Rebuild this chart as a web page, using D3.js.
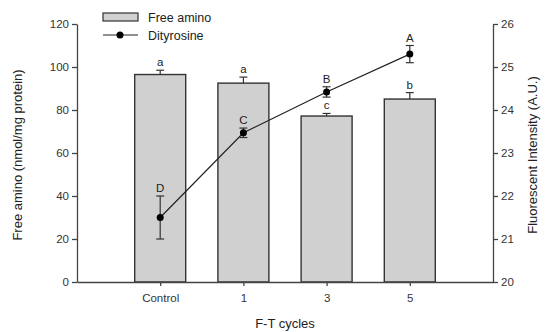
<!DOCTYPE html>
<html>
<head>
<meta charset="utf-8">
<script src="https://cdn.jsdelivr.net/npm/d3@7"></script>
<style>
  body { margin: 0; background: #fff; }
  text { font-family: "Liberation Sans", Arial, sans-serif; fill: #222; }
  .axis path, .axis line { stroke: #444; stroke-width: 1.3; }
  .axis text { font-size: 11.5px; fill: #333; }
</style>
</head>
<body>
<svg id="chart" width="551" height="332"></svg>
<script>
var categories = ['Control', '1', '3', '5'];
var freeAmino = [96.5, 92.5, 77.2, 85.1];
var freeAminoErr = [2, 2.8, 1.2, 3];
var freeAminoLetters = ['a', 'a', 'c', 'b'];
var dityrosine = [21.5, 23.47, 24.42, 25.3];
var dityrosineErr = [0.5, 0.11, 0.12, 0.2];
var dityrosineLetters = ['D', 'C', 'B', 'A'];
var leftTicks = [0, 20, 40, 60, 80, 100, 120];
var rightTicks = [20, 21, 22, 23, 24, 25, 26];

var svg = d3.select('#chart');
var plotLeft = 77, plotRight = 493, plotTop = 24, plotBottom = 282;

var x = d3.scalePoint().domain(categories).range([plotLeft, plotRight]).padding(1);
var yL = d3.scaleLinear().domain([0, 120]).range([plotBottom, plotTop]);
var yR = d3.scaleLinear().domain([20, 26]).range([plotBottom, plotTop]);
var barW = 51;

// bars
svg.selectAll('.bar')
    .data(freeAmino)
    .enter()
    .append('rect')
        .attr('class', 'bar')
        .attr('x', function(d, i) { return x(categories[i]) - barW / 2; })
        .attr('y', function(d) { return yL(d); })
        .attr('width', barW)
        .attr('height', function(d) { return plotBottom - yL(d); })
        .attr('fill', '#d0d0d0')
        .attr('stroke', '#333')
        .attr('stroke-width', 1.4);

// bar error bars (upper only)
freeAmino.forEach(function(v, i){
    var cx = x(categories[i]);
    svg.append('line')
        .attr('x1', cx).attr('x2', cx)
        .attr('y1', yL(v)).attr('y2', yL(v + freeAminoErr[i]))
        .attr('stroke', '#333').attr('stroke-width', 1.2);
    svg.append('line')
        .attr('x1', cx - 4).attr('x2', cx + 4)
        .attr('y1', yL(v + freeAminoErr[i])).attr('y2', yL(v + freeAminoErr[i]))
        .attr('stroke', '#333').attr('stroke-width', 1.2);
    svg.append('text')
        .attr('x', cx)
        .attr('y', yL(v + freeAminoErr[i]) - 4)
        .attr('text-anchor', 'middle')
        .style('font-size', '11.5px')
        .text(freeAminoLetters[i]);
});

// axes
svg.append('g')
    .attr('class', 'axis')
    .attr('transform', 'translate(' + plotLeft + ',0)')
    .call(d3.axisLeft(yL).tickValues(leftTicks).tickSize(5).tickSizeOuter(0));

svg.append('g')
    .attr('class', 'axis')
    .attr('transform', 'translate(' + plotRight + ',0)')
    .call(d3.axisRight(yR).tickValues(rightTicks).tickFormat(d3.format('d')).tickSize(5).tickSizeOuter(0));

svg.append('g')
    .attr('class', 'axis')
    .attr('transform', 'translate(0,' + plotBottom + ')')
    .call(d3.axisBottom(x).tickSize(4).tickSizeOuter(0).tickPadding(8));

// dityrosine line
var line = d3.line()
    .x(function(d, i) { return x(categories[i]); })
    .y(function(d) { return yR(d); });

svg.append('path')
    .datum(dityrosine)
    .attr('d', line)
    .attr('fill', 'none')
    .attr('stroke', '#222')
    .attr('stroke-width', 1.2);

dityrosine.forEach(function(v, i){
    var cx = x(categories[i]);
    var e = dityrosineErr[i];
    svg.append('line')
        .attr('x1', cx).attr('x2', cx)
        .attr('y1', yR(v - e)).attr('y2', yR(v + e))
        .attr('stroke', '#333').attr('stroke-width', 1.2);
    [v - e, v + e].forEach(function(w){
        svg.append('line')
            .attr('x1', cx - 4).attr('x2', cx + 4)
            .attr('y1', yR(w)).attr('y2', yR(w))
            .attr('stroke', '#333').attr('stroke-width', 1.2);
    });
    svg.append('circle')
        .attr('cx', cx).attr('cy', yR(v)).attr('r', 3.5)
        .attr('fill', '#000');
    svg.append('text')
        .attr('x', cx)
        .attr('y', yR(v + e) - 4)
        .attr('text-anchor', 'middle')
        .style('font-size', '11.5px')
        .text(dityrosineLetters[i]);
});

// axis titles
svg.append('text')
    .attr('transform', 'translate(22,' + ((plotTop + plotBottom) / 2 + 2) + ') rotate(-90)')
    .attr('text-anchor', 'middle')
    .style('font-size', '13px')
    .text('Free amino (nmol/mg protein)');

svg.append('text')
    .attr('transform', 'translate(537,' + ((plotTop + plotBottom) / 2 + 2) + ') rotate(-90)')
    .attr('text-anchor', 'middle')
    .style('font-size', '13px')
    .text('Fluorescent Intensity (A.U.)');

svg.append('text')
    .attr('x', (plotLeft + plotRight) / 2)
    .attr('y', 328)
    .attr('text-anchor', 'middle')
    .style('font-size', '13px')
    .text('F-T cycles');

// legend
svg.append('rect')
    .attr('x', 103).attr('y', 13).attr('width', 35).attr('height', 8)
    .attr('fill', '#d0d0d0').attr('stroke', '#333').attr('stroke-width', 1.2);
svg.append('text')
    .attr('x', 148).attr('y', 22)
    .style('font-size', '12.5px')
    .text('Free amino');
svg.append('line')
    .attr('x1', 103).attr('x2', 138).attr('y1', 35).attr('y2', 35)
    .attr('stroke', '#222').attr('stroke-width', 1.2);
svg.append('circle')
    .attr('cx', 120).attr('cy', 35).attr('r', 3.5).attr('fill', '#000');
svg.append('text')
    .attr('x', 148).attr('y', 39.5)
    .style('font-size', '12.5px')
    .text('Dityrosine');
</script>
</body>
</html>
